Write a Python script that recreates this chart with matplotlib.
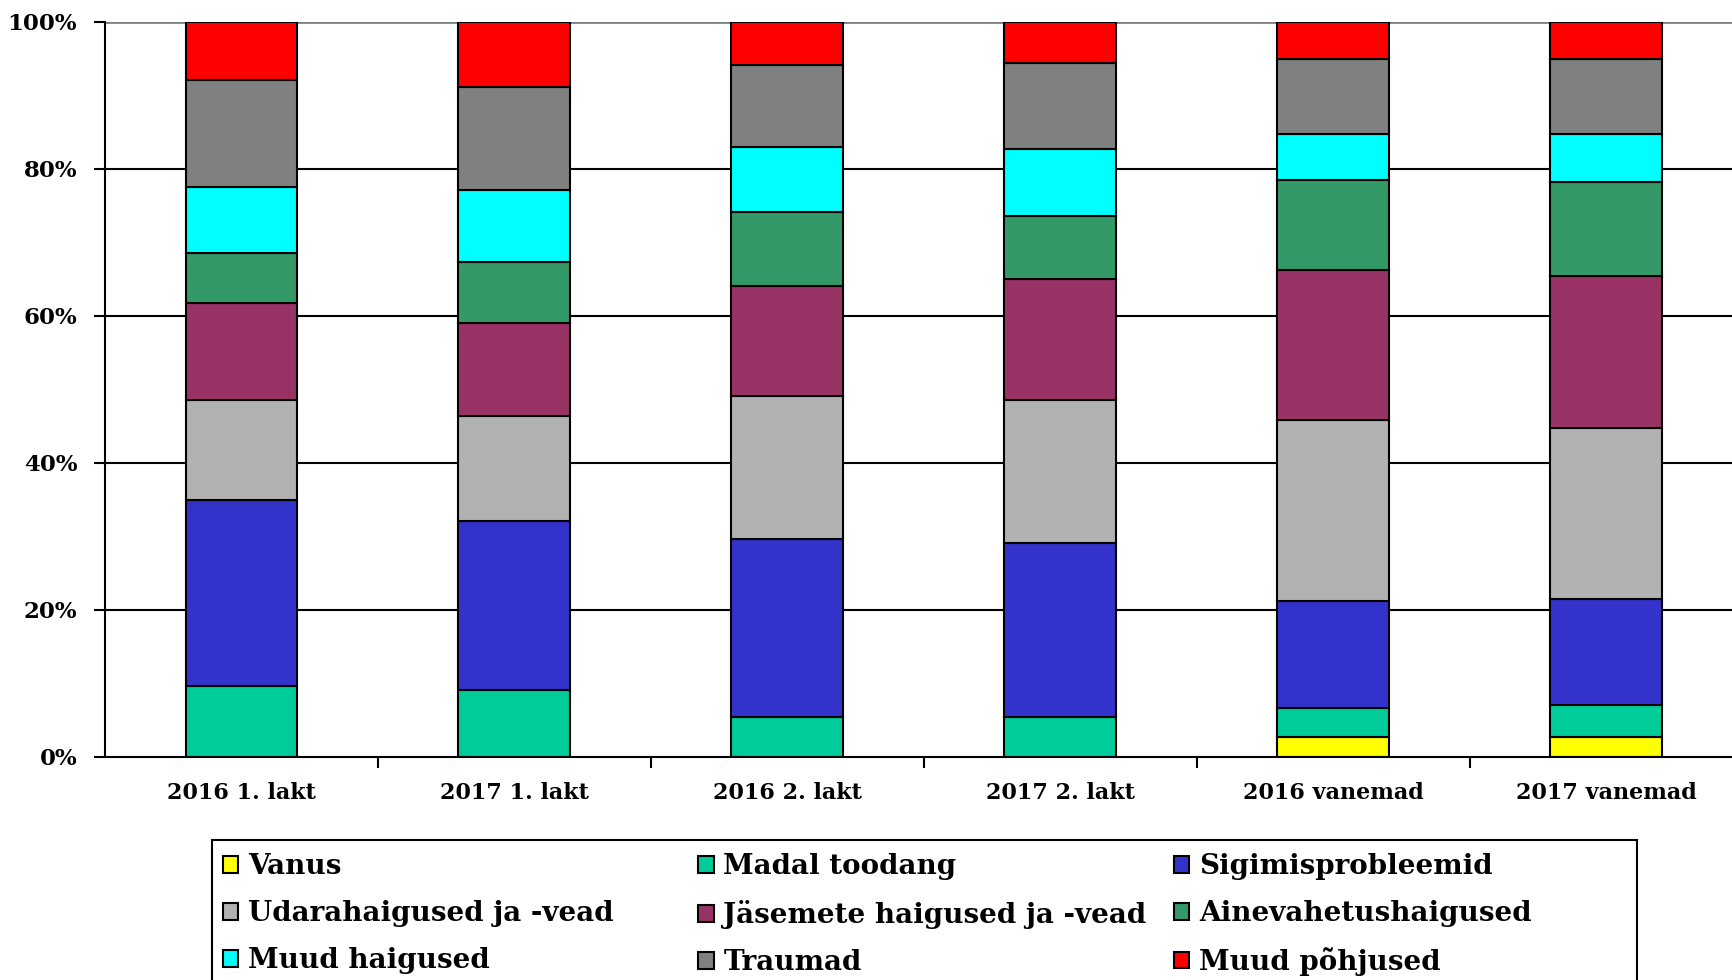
import matplotlib
matplotlib.use("Agg")
import matplotlib.pyplot as plt
import matplotlib.patches as mpatches
from matplotlib.ticker import PercentFormatter
import numpy as np

#Datos (osakaal %, iga tulp kokku 100)
kategooriad = ["2016 1. lakt", "2017 1. lakt", "2016 2. lakt",
               "2017 2. lakt", "2016 vanemad", "2017 vanemad"]

vanus = [0, 0, 0, 0, 2.7, 2.7]
madal_toodang = [9.7, 9.1, 5.4, 5.4, 3.9, 4.4]
sigimisprobleemid = [25.2, 23.0, 24.2, 23.7, 14.6, 14.4]
udarahaigused = [13.7, 14.3, 19.5, 19.4, 24.6, 23.3]
jasemete_haigused = [13.2, 12.6, 15.0, 16.5, 20.5, 20.6]
ainevahetushaigused = [6.7, 8.4, 10.1, 8.6, 12.2, 12.8]
muud_haigused = [9.1, 9.8, 8.8, 9.1, 6.3, 6.6]
traumad = [14.5, 13.9, 11.1, 11.7, 10.1, 10.1]
muud_pohjused = [7.9, 8.9, 5.9, 5.6, 5.1, 5.1]

seeriad = [
    ("Vanus", vanus, "#FFFF00"),
    ("Madal toodang", madal_toodang, "#00CC99"),
    ("Sigimisprobleemid", sigimisprobleemid, "#3333CC"),
    ("Udarahaigused ja -vead", udarahaigused, "#B2B2B2"),
    ("Jäsemete haigused ja -vead", jasemete_haigused, "#993366"),
    ("Ainevahetushaigused", ainevahetushaigused, "#339966"),
    ("Muud haigused", muud_haigused, "#00FFFF"),
    ("Traumad", traumad, "#808080"),
    ("Muud põhjused", muud_pohjused, "#FF0000"),
]

fuente = "DejaVu Serif"

fig = plt.figure(figsize=(17.33, 9.8), dpi=100)
#El área del gráfico sigue un poco más allá del borde derecho
ax = fig.add_axes([0.0606, 0.2276, 0.945, 0.75])

#Barras apiladas
x = np.arange(len(kategooriad))
alus = np.zeros(len(kategooriad))
kasitsejad = []
for nimi, vaartused, varv in seeriad:
    v = np.array(vaartused, dtype=float)
    b = ax.bar(x, v, 0.41, bottom=alus, color=varv, edgecolor="black",
               linewidth=1.5, label=nimi, zorder=3)
    kasitsejad.append(b)
    alus += v

#Ejes y cuadrícula
ax.set_xlim(-0.5, len(kategooriad) - 0.5)
ax.set_ylim(0, 100)
ax.set_yticks([0, 20, 40, 60, 80, 100])
ax.yaxis.set_major_formatter(PercentFormatter(decimals=0))
for yy in [20, 40, 60, 80]:
    ax.axhline(yy, color="black", linewidth=1.5, zorder=1)
ax.axhline(100, color="#808080", linewidth=2, zorder=1)

ax.set_xticks(x)
ax.set_xticklabels(kategooriad)
ax.set_xticks(np.arange(len(kategooriad) - 1) + 0.5, minor=True)
ax.tick_params(axis="x", which="major", length=0, pad=18)
ax.tick_params(axis="x", which="minor", length=8, width=1.5, direction="out")
ax.tick_params(axis="y", length=8, width=1.5, direction="out", pad=12)

for lbl in ax.get_yticklabels():
    lbl.set_fontfamily(fuente)
    lbl.set_fontweight("bold")
    lbl.set_fontsize(16.5)
for lbl in ax.get_xticklabels():
    lbl.set_fontfamily(fuente)
    lbl.set_fontweight("bold")
    lbl.set_fontsize(16)

ax.spines["top"].set_visible(False)
ax.spines["right"].set_visible(False)
ax.spines["left"].set_linewidth(1.5)
ax.spines["bottom"].set_linewidth(1.5)
ax.spines["bottom"].set_zorder(4)

#Leyenda en tres columnas
kolonni_x = [0.1288, 0.4030, 0.6773]
for k in range(3):
    h = [kasitsejad[k + 3 * r] for r in range(3)]
    n = [seeriad[k + 3 * r][0] for r in range(3)]
    leg = fig.legend(h, n, loc="upper left", bbox_to_anchor=(kolonni_x[k], 0.1296),
                     frameon=False, ncol=1, handlelength=0.55, handleheight=0.55,
                     handletextpad=0.35, labelspacing=0.72, borderpad=0,
                     borderaxespad=0,
                     prop={"family": fuente, "weight": "bold", "size": 20})

raam = mpatches.Rectangle((0.1223, -0.05), 0.8223, 0.1929, transform=fig.transFigure,
                          fill=False, edgecolor="black", linewidth=1.5)
fig.patches.append(raam)

plt.savefig("out.png", dpi=100)
